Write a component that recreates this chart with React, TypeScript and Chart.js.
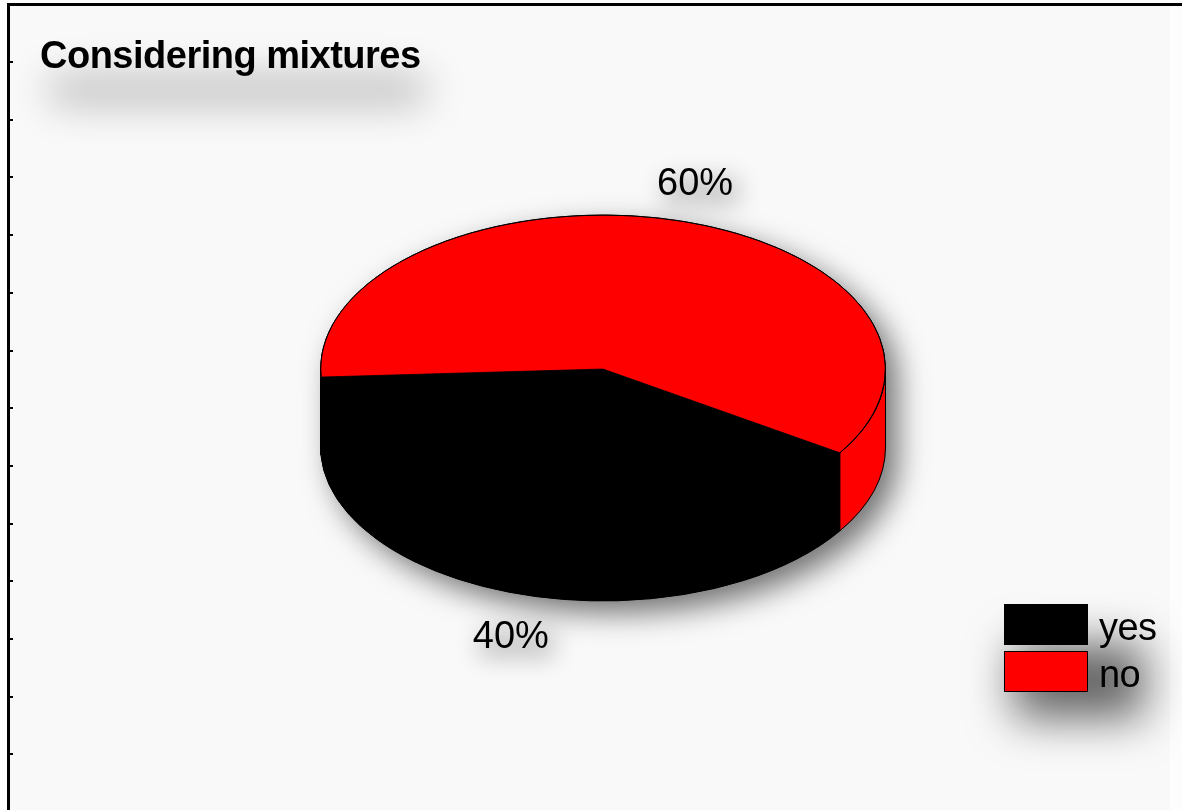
import React, { useEffect, useRef } from 'react';
import { Chart, registerables } from 'chart.js';

Chart.register(...registerables);

const TITLE = 'Considering mixtures';
const CATEGORIES = ['yes', 'no'];
const VALUES = [40, 60];
const COLORS = ['#000000', '#ff0000'];
const ROTATION_DEG = 123;

const W = 1182;
const H = 810;
const PIE_RADIUS = 282.5;
const TILT = 0.545;
const DEPTH = 78;
const FONT = "'Liberation Sans', Arial, Helvetica, sans-serif";

function shadowRect(ctx: CanvasRenderingContext2D, x: number, y: number, w: number, h: number, ox: number, oy: number, blur: number, color: string) {
  ctx.save();
  ctx.shadowColor = color;
  ctx.shadowBlur = blur;
  ctx.shadowOffsetX = ox + 10000;
  ctx.shadowOffsetY = oy;
  ctx.fillStyle = '#000';
  ctx.fillRect(x - 10000, y, w, h);
  ctx.restore();
}

const pie3d = {
  id: 'pie3d',
  beforeDraw(chart: any) {
    const ctx: CanvasRenderingContext2D = chart.ctx;
    ctx.save();
    ctx.fillStyle = '#fdfdfd';
    ctx.fillRect(0, 0, W, H);
    ctx.fillStyle = '#f9f9f9';
    ctx.fillRect(10, 6, W - 22, H - 6);
    // frame
    ctx.fillStyle = '#000';
    ctx.fillRect(8, 3, W - 8, 3);
    ctx.fillRect(7, 3, 3, H);
    for (let i = 0; i < 14; i++) {
      const y = Math.round(62 + 57.7 * i);
      ctx.fillRect(10, y - 1, 3, 2);
    }
    // title
    shadowRect(ctx, 50, 55, 375, 26, 0, 22, 40, 'rgba(0,0,0,0.28)');
    ctx.fillStyle = '#000';
    ctx.font = `bold 38px ${FONT}`;
    (ctx as any).letterSpacing = '-0.5px';
    ctx.textAlign = 'left';
    ctx.textBaseline = 'alphabetic';
    ctx.fillText(TITLE, 40, 68);
    (ctx as any).letterSpacing = '0px';
    ctx.restore();
  },
  beforeDatasetsDraw(chart: any) {
    const ctx: CanvasRenderingContext2D = chart.ctx;
    const meta = chart.getDatasetMeta(0);
    const a0 = meta.data[0];
    const cx = a0.x, cy = a0.y, rx = a0.outerRadius, ry = rx * TILT;

    // pie shadow
    ctx.save();
    ctx.shadowColor = 'rgba(0,0,0,0.55)';
    ctx.shadowBlur = 30;
    ctx.shadowOffsetX = 12;
    ctx.shadowOffsetY = 12;
    ctx.fillStyle = '#000';
    ctx.beginPath();
    ctx.ellipse(cx, cy, rx, ry, 0, Math.PI, 2 * Math.PI);
    ctx.lineTo(cx + rx, cy + DEPTH);
    ctx.ellipse(cx, cy + DEPTH, rx, ry, 0, 0, Math.PI);
    ctx.closePath();
    ctx.fill();
    ctx.restore();

    // side walls
    const wall = (a1: number, a2: number, color: string) => {
      ctx.beginPath();
      ctx.moveTo(cx + rx * Math.cos(a1), cy + ry * Math.sin(a1));
      ctx.ellipse(cx, cy, rx, ry, 0, a1, a2);
      ctx.lineTo(cx + rx * Math.cos(a2), cy + ry * Math.sin(a2) + DEPTH);
      ctx.ellipse(cx, cy + DEPTH, rx, ry, 0, a2, a1, true);
      ctx.closePath();
      ctx.fillStyle = color;
      ctx.fill();
      ctx.lineWidth = 1;
      ctx.strokeStyle = '#000';
      ctx.stroke();
    };
    ctx.save();
    meta.data.forEach((arc: any, i: number) => {
      const s = arc.startAngle, e = arc.endAngle;
      for (let n = -1; n <= 2; n++) {
        const lo = Math.max(s, 2 * Math.PI * n);
        const hi = Math.min(e, 2 * Math.PI * n + Math.PI);
        if (hi > lo) wall(lo - 2 * Math.PI * n, hi - 2 * Math.PI * n, COLORS[i]);
      }
    });
    ctx.restore();

    ctx.save();
    ctx.translate(cx, cy);
    ctx.scale(1, TILT);
    ctx.translate(-cx, -cy);
  },
  afterDatasetsDraw(chart: any) {
    const ctx: CanvasRenderingContext2D = chart.ctx;
    ctx.restore();
    const meta = chart.getDatasetMeta(0);
    const a0 = meta.data[0];
    const cx = a0.x, cy = a0.y, rx = a0.outerRadius, ry = rx * TILT;
    ctx.save();
    ctx.lineWidth = 1;
    ctx.strokeStyle = '#000';
    ctx.beginPath();
    ctx.ellipse(cx, cy, rx, ry, 0, 0, 2 * Math.PI);
    ctx.stroke();

    // percent labels
    const total = VALUES.reduce((a, b) => a + b, 0);
    ctx.font = `38px ${FONT}`;
    ctx.textAlign = 'center';
    ctx.textBaseline = 'alphabetic';
    meta.data.forEach((arc: any, i: number) => {
      const m = (arc.startAngle + arc.endAngle) / 2;
      const lx = cx + 1.26 * rx * Math.cos(m);
      const ly = cy + 1.26 * ry * Math.sin(m) + (Math.sin(m) > 0 ? DEPTH : 0);
      const txt = Math.round((VALUES[i] / total) * 100) + '%';
      const tw = ctx.measureText(txt).width;
      shadowRect(ctx, lx - tw / 2, ly - 14, tw, 28, 6, 10, 24, 'rgba(0,0,0,0.2)');
      ctx.fillStyle = '#000';
      ctx.fillText(txt, lx, ly + 13.6);
    });

    // legend
    const lx = 1004, ly = 604, bw = 84, bh = 41, gap = 47;
    shadowRect(ctx, lx + 10, ly + 10, 130, gap * CATEGORIES.length - 20, 0, 30, 45, 'rgba(0,0,0,0.6)');
    CATEGORIES.forEach((c, i) => {
      const y = ly + i * gap;
      ctx.fillStyle = COLORS[i];
      ctx.fillRect(lx, y, bw, bh);
      ctx.strokeStyle = '#000';
      ctx.lineWidth = 1;
      ctx.strokeRect(lx + 0.5, y + 0.5, bw - 1, bh - 1);
      ctx.fillStyle = '#000';
      ctx.textAlign = 'left';
      ctx.font = `38px ${FONT}`;
      (ctx as any).letterSpacing = '-0.6px';
      ctx.fillText(c, lx + 95, y + 36);
      (ctx as any).letterSpacing = '0px';
    });
    ctx.restore();
  },
};

export default function App() {
  const ref = useRef<HTMLCanvasElement>(null);
  useEffect(() => {
    if (!ref.current) return;
    const chart = new Chart(ref.current, {
      type: 'pie',
      data: {
        labels: CATEGORIES,
        datasets: [
          {
            data: VALUES,
            backgroundColor: COLORS,
            borderColor: '#000000',
            borderWidth: 1,
            radius: PIE_RADIUS,
            clip: false,
          } as any,
        ],
      },
      options: {
        responsive: false,
        animation: false,
        events: [],
        rotation: ROTATION_DEG,
        layout: { padding: { left: 24, right: 0, top: 0, bottom: 72 } },
        plugins: {
          legend: { display: false },
          tooltip: { enabled: false },
          title: { display: false },
        },
      } as any,
      plugins: [pie3d],
    });
    return () => chart.destroy();
  }, []);
  return (
    <div style={{ position: 'absolute', left: 0, top: 0, width: W, height: H, overflow: 'hidden' }}>
      <canvas ref={ref} width={W} height={H} style={{ display: 'block', width: W, height: H }} />
    </div>
  );
}
